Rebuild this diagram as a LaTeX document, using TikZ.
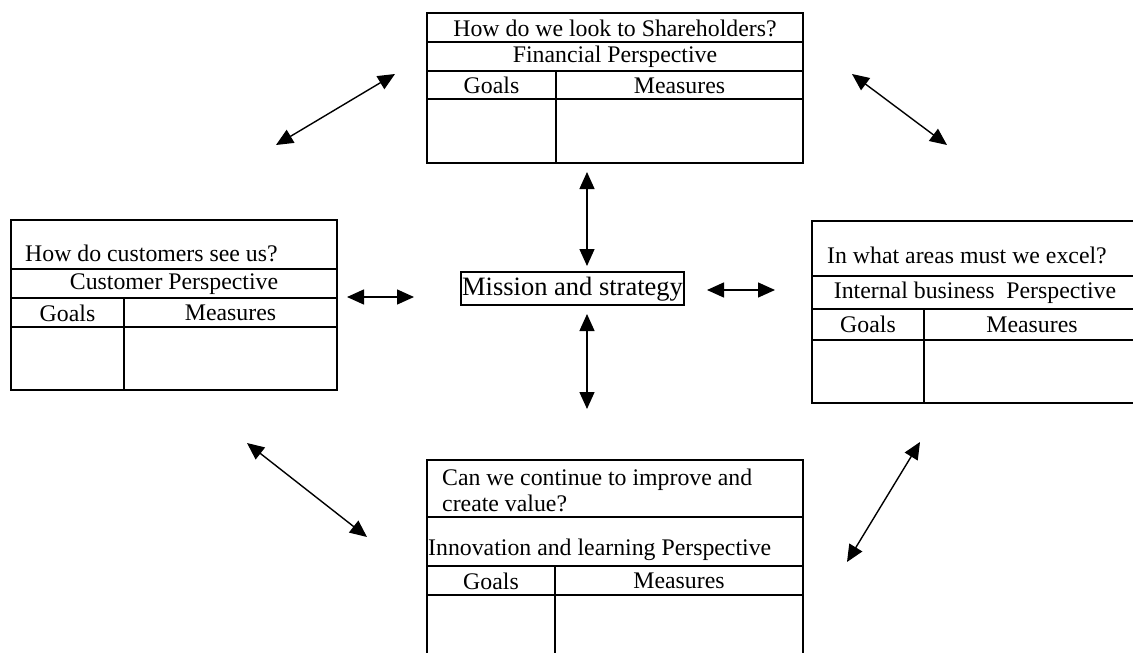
\documentclass[tikz,border=0pt]{standalone}
\usepackage{fontspec}
\setmainfont{Liberation Serif}
\usetikzlibrary{arrows.meta}
\tikzset{
  frame/.style={draw=black, line width=1.3pt},
  txt/.style={inner sep=0pt, font=\fontsize{23.8}{26}\selectfont},
  bigtxt/.style={inner sep=0pt, font=\fontsize{26.5}{30}\selectfont},
  link/.style={line width=1.4pt, {Triangle[length=17pt,width=15pt]}-{Triangle[length=17pt,width=15pt]}}
}
\begin{document}
\begin{tikzpicture}[x=1pt,y=-1pt]
\useasboundingbox (0,0) rectangle (1133,653);
\clip (0,0) rectangle (1133,653);
\fill[white] (0,0) rectangle (1133,653);

% ---------- Top box: Financial ----------
\draw[frame] (427,13) rectangle (803,163);
\draw[frame] (427,42) -- (803,42) (427,71) -- (803,71) (427,99) -- (803,99);
\draw[frame] (556,71) -- (556,163);
\node[txt] (fq) at (615,28) {How do we look to Shareholders?};
\node[txt] (fp) at (615,57) {Financial Perspective};
\node[txt] (fg) at (491.5,85.5) {Goals};
\node[txt] (fm) at (679.5,85.5) {Measures};

% ---------- Left box: Customer ----------
\draw[frame] (11,220) rectangle (337,390);
\draw[frame] (11,269) -- (337,269) (11,298) -- (337,298) (11,327) -- (337,327);
\draw[frame] (124,298) -- (124,390);
\node[txt, anchor=west] (cq) at (25,253) {How do customers see us?};
\node[txt] (cp) at (174,284) {Customer Perspective};
\node[txt] (cg) at (67.5,313) {Goals};
\node[txt] (cm) at (230.5,313) {Measures};

% ---------- Right box: Internal business ----------
\draw[frame] (812,221) rectangle (1140,403);
\draw[frame] (812,276) -- (1140,276) (812,309) -- (1140,309) (812,340) -- (1140,340);
\draw[frame] (924,309) -- (924,403);
\node[txt, anchor=west] (iq) at (827,255) {In what areas must we excel?};
\node[txt] (ip) at (975,293) {Internal business~ Perspective};
\node[txt] (ig) at (868,324.5) {Goals};
\node[txt] (im) at (1032,324.5) {Measures};

% ---------- Bottom box: Innovation ----------
\draw[frame] (427,460) rectangle (803,680);
\draw[frame] (427,517) -- (803,517) (427,566) -- (803,566) (427,595) -- (803,595);
\draw[frame] (555,566) -- (555,680);
\node[txt, anchor=west, align=left] (lq) at (442,490) {Can we continue to improve and\\create value?};
\node[txt, anchor=west] (lp) at (428,550) {Innovation and learning Perspective};
\node[txt] (lg) at (491,581) {Goals};
\node[txt] (lm) at (679,581) {Measures};

% ---------- Centre ----------
\draw[line width=1.3pt] (461,272) rectangle (684,305);
\node[bigtxt] (ms) at (572.5,289) {Mission and strategy};

% ---------- Arrows ----------
\coordinate (tv1) at (587,172);  \coordinate (tv2) at (587,266);
\coordinate (bv1) at (587,314);  \coordinate (bv2) at (587,409);
\coordinate (lh1) at (347,297);  \coordinate (lh2) at (414,297);
\coordinate (rh1) at (707,290);  \coordinate (rh2) at (775,290);
\coordinate (tl1) at (276,145);  \coordinate (tl2) at (395,74);
\coordinate (tr1) at (852,74);   \coordinate (tr2) at (947,145);
\coordinate (bl1) at (247,443);  \coordinate (bl2) at (367,537);
\coordinate (br1) at (920,442);  \coordinate (br2) at (847,562);

\draw[link] (tv1) -- (tv2);
\draw[link] (bv1) -- (bv2);
\draw[link] (lh1) -- (lh2);
\draw[link] (rh1) -- (rh2);
\draw[link] (tl1) -- (tl2);
\draw[link] (tr1) -- (tr2);
\draw[link] (bl1) -- (bl2);
\draw[link] (br1) -- (br2);
\end{tikzpicture}
\end{document}
